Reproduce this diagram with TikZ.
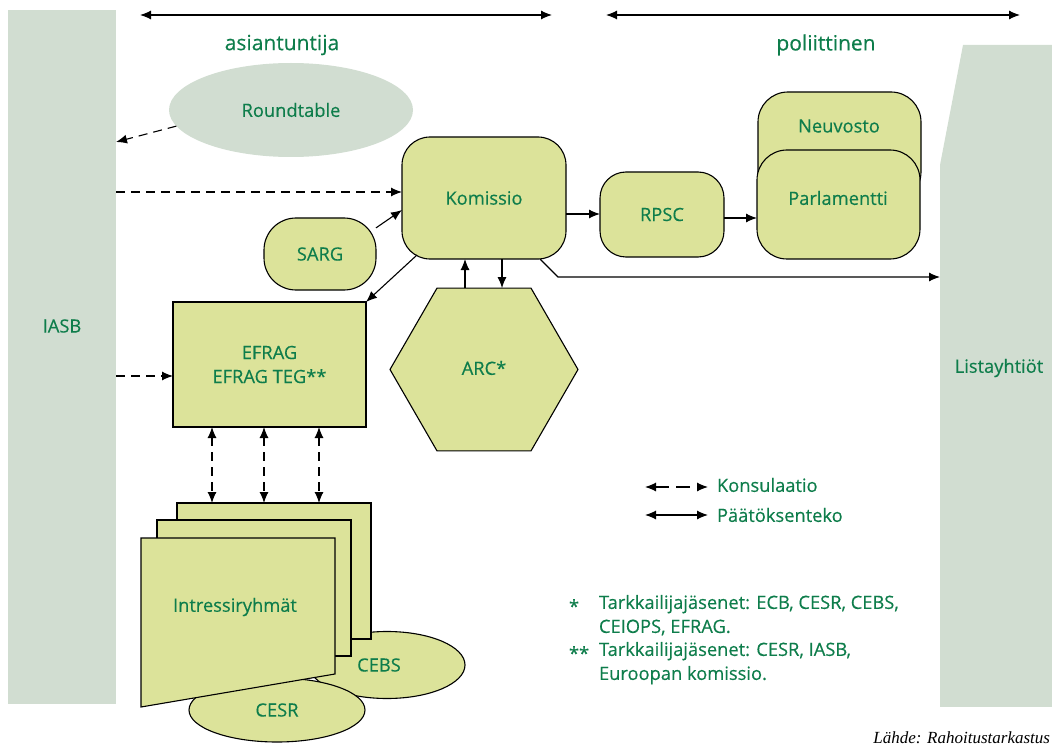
\documentclass[tikz,border=0pt]{standalone}
\usepackage{fontspec}
\setmainfont{Open Sans}[FakeBold=0.35]
\newfontfamily\srcfont{Liberation Serif}
\usetikzlibrary{arrows.meta,shapes.geometric,calc}
\definecolor{fillc}{RGB}{220,227,154}
\definecolor{greyc}{RGB}{209,221,209}
\definecolor{txtc}{RGB}{14,125,75}
\begin{document}
\begin{tikzpicture}[x=1pt,y=-1pt,
  every node/.style={inner sep=0pt,outer sep=0pt,text=txtc,font=\fontsize{18.3}{24}\selectfont},
  box/.style={draw=black,fill=fillc,line width=1.1pt},
  greybox/.style={fill=greyc,draw=none},
  arr/.style={line width=1.1pt,-{Latex[length=11pt,width=9pt]}},
  darr/.style={arr,dash pattern=on 9pt off 6pt},
  dblarr/.style={line width=1.1pt,{Latex[length=11pt,width=9pt]}-{Latex[length=11pt,width=9pt]}},
  ddblarr/.style={dblarr,dash pattern=on 9pt off 6pt}]
\useasboundingbox (0,0) rectangle (1052,746);

% side bars
\node[greybox,minimum width=108,minimum height=694] (iasb) at (62,357) {};
\node (iasbl) at (62,326) {IASB};
\node[greybox,minimum width=112,minimum height=542] (lis) at (996,436) {};
\fill[greyc] (lis.north west) -- (963,45) -- (1052,45) -- (lis.north east) -- cycle;
\node (lisl) at (999,368) {Listayhtiöt};

% top arrows
\coordinate (t1) at (140,15); \coordinate (t2) at (552,15);
\coordinate (t3) at (606,15); \coordinate (t4) at (1020,15);
\draw[dblarr] (t1) -- (t2);
\draw[dblarr] (t3) -- (t4);
\node[font=\fontsize{21}{24}\selectfont] (asi) at (282,45) {asiantuntija};
\node[font=\fontsize{21}{24}\selectfont] (pol) at (826,45) {poliittinen};

% Roundtable
\node[ellipse,fill=greyc,minimum width=244,minimum height=94] (rt) at (291,110) {Roundtable};

% Komissio etc
\node[box,rounded corners=28,minimum width=164,minimum height=122] (kom) at (484,198) {Komissio};
\node[box,rounded corners=32,minimum width=112,minimum height=72] (sarg) at (320,254) {SARG};
\node[box,minimum width=193,minimum height=125,align=center] (efrag) at (269.5,364.5) {EFRAG\\EFRAG TEG**};
\node[box,regular polygon,regular polygon sides=6,minimum size=188] (arc) at (484,369.5) {};
\node (arcl) at (484,368) {ARC*};
\node[box,rounded corners=26,minimum width=124,minimum height=85] (rpsc) at (662,214.5) {RPSC};
\node[box,rounded corners=30,minimum width=163,minimum height=110] (neu) at (839.5,147) {};
\node (neul) at (839,126) {Neuvosto};
\node[box,rounded corners=30,minimum width=163,minimum height=109] (parl) at (838.5,204.5) {};
\node (parll) at (838,198) {Parlamentti};

% connectors top part
\draw[darr] (rt.188) -- ($(iasb.east)+(0,-215)$);
\coordinate (k1) at ($(kom.west)+(0,-6)$);
\draw[darr] (iasb.east |- k1) -- (k1);
\coordinate (ef1) at ($(efrag.west)+(0,11.5)$);
\draw[darr] (iasb.east |- ef1) -- (ef1);
\draw[arr] (sarg.25) -- ($(kom.west)+(0,12)$);
\draw[arr] ($(kom.center)+(-67,57)$) -- (efrag.north east);
\coordinate (a1) at ($(arc.north)+(-19,0)$);
\coordinate (a2) at ($(arc.north)+(18,0)$);
\draw[arr] (a1) -- (a1 |- kom.south);
\draw[arr] (a2 |- kom.south) -- (a2);
\coordinate (k2) at ($(kom.east)+(0,16)$);
\draw[arr] (k2) -- (k2 -| rpsc.west);
\coordinate (r1) at ($(rpsc.east)+(0,3.5)$);
\draw[arr] (r1) -- (r1 -| parl.west);
\coordinate (k3) at ($(kom.south)+(56,0)$);
\coordinate (k4) at ($(k3)+(18,18)$);
\draw[arr] (k3) -- (k4) -- (k4 -| lis.west);

% bottom group
\node[box,ellipse,minimum width=156,minimum height=67] (cebs) at (387,665) {};
\node (cebsl) at (379,665) {CEBS};
\node[box,ellipse,minimum width=176,minimum height=64] (cesr) at (277,710) {CESR};
\node[box,minimum width=194,minimum height=136] (back) at (274,571) {};
\node[box,minimum width=194,minimum height=136] (mid) at (254,588) {};
\filldraw[fill=fillc,draw=black,line width=1.1pt] (141,538) -- (335,538) -- (335,674) -- (141,707) -- cycle;
\node (intr) at (235,607) {Intressiryhmät};

\coordinate (e1) at ($(efrag.south)+(-57.5,0)$);
\coordinate (e2) at ($(efrag.south)+(-5.5,0)$);
\coordinate (e3) at ($(efrag.south)+(49.5,0)$);
\draw[ddblarr] (e1) -- (e1 |- back.north);
\draw[ddblarr] (e2) -- (e2 |- back.north);
\draw[ddblarr] (e3) -- (e3 |- back.north);

% legend
\coordinate (l1) at (645,487); \coordinate (l2) at (708,487);
\coordinate (l3) at (645,515); \coordinate (l4) at (708,515);
\draw[ddblarr,dash pattern=on 14pt off 7pt] (l1) -- (l2);
\draw[dblarr] (l3) -- (l4);
\node[anchor=west] (kon) at (717,485) {Konsulaatio};
\node[anchor=west] (paa) at (717,515) {Päätöksenteko};

% footnotes
\node[anchor=west] (s1) at (569,606) {*};
\node[anchor=north west,align=left] (f1) at (599,595) {Tarkkailijajäsenet: ECB, CESR, CEBS,\\CEIOPS, EFRAG.};
\node[anchor=west] (s2) at (569,653) {**};
\node[anchor=north west,align=left] (f2) at (599,642) {Tarkkailijajäsenet: CESR, IASB,\\Euroopan komissio.};

\node[anchor=east,text=black,font=\srcfont\itshape\fontsize{17}{18}\selectfont] (src) at (1050,738) {Lähde: Rahoitustarkastus};
\end{tikzpicture}
\end{document}
